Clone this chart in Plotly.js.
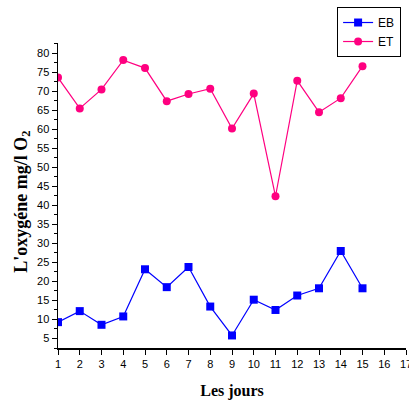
<!DOCTYPE html>
<html><head><meta charset="utf-8">
<script src="https://cdn.plot.ly/plotly-3.0.1.min.js"></script>
<style>html,body{margin:0;padding:0;background:#fff}</style>
</head><body>
<div id="chart" style="width:409px;height:401px"></div>
<script>
const days = [1,2,3,4,5,6,7,8,9,10,11,12,13,14,15];
const EB = [9.3,12.2,8.6,10.8,23.2,18.5,23.8,13.4,5.8,15.2,12.5,16.3,18.2,28.0,18.2];
const ET = [73.6,65.5,70.5,78.2,76.1,67.4,69.3,70.7,60.2,69.4,42.4,72.8,64.5,68.2,76.6];
const xTicks = [1,2,3,4,5,6,7,8,9,10,11,12,13,14,15,16,17];

const traces = [
  {x: days, y: EB, name: 'EB', type: 'scatter', mode: 'lines+markers',
   line: {color: '#0000FF', width: 1.2},
   marker: {symbol: 'square', size: 8, color: '#0000FF'}},
  {x: days, y: ET, name: 'ET', type: 'scatter', mode: 'lines+markers',
   line: {color: '#FF0080', width: 1.2},
   marker: {symbol: 'circle', size: 8, color: '#FF0080'}}
];

const layout = {
  width: 409, height: 401,
  margin: {l: 58, r: 3, t: 43, b: 53},
  paper_bgcolor: '#fff', plot_bgcolor: '#fff',
  showlegend: true,
  legend: {x: 0.802, xanchor: 'left', y: 1.118, yanchor: 'top',
           font: {family: 'Liberation Sans, Arial', size: 12, color: '#000'},
           bordercolor: '#000', borderwidth: 1, bgcolor: '#fff', tracegroupgap: 0,
           itemwidth: 30},
  xaxis: {
    range: [1, 17], tickvals: xTicks, ticktext: xTicks.map(String),
    ticklabeloverflow: 'allow',
    showgrid: false, zeroline: false, showline: true, linecolor: '#000', linewidth: 1.5,
    ticks: 'outside', ticklen: 5, tickcolor: '#000', tickwidth: 1,
    tickfont: {family: 'Liberation Sans, Arial', size: 11, color: '#000'},
    title: {text: 'Les jours', font: {family: 'Liberation Serif, Times New Roman', size: 16, color: '#000', weight: 'bold'}, standoff: 16}
  },
  yaxis: {
    range: [2.5, 82.7], tick0: 5, dtick: 5,
    showgrid: false, zeroline: false, showline: true, linecolor: '#000', linewidth: 1.5,
    ticks: 'outside', ticklen: 5, tickcolor: '#000', tickwidth: 1,
    minor: {dtick: 2.5, tick0: 5, ticks: 'outside', ticklen: 3, tickcolor: '#000', showgrid: false},
    tickfont: {family: 'Liberation Sans, Arial', size: 11, color: '#000'}
  },
  annotations: [{
    text: "L'oxygéne mg/l O<sub>2</sub>", textangle: -90,
    xref: 'paper', yref: 'paper', x: -0.103, y: 0.48, xanchor: 'center', yanchor: 'middle',
    showarrow: false,
    font: {family: 'Liberation Serif, Times New Roman', size: 18, color: '#000', weight: 'bold'}
  }]
};

Plotly.newPlot('chart', traces, layout, {displayModeBar: false, staticPlot: true});
</script>
</body></html>
